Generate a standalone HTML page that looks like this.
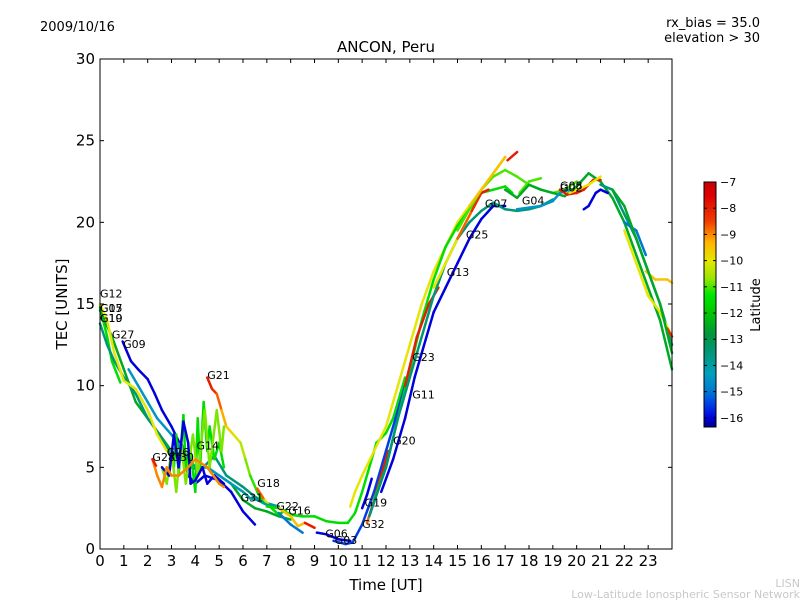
<!DOCTYPE html>
<html><head><meta charset="utf-8">
<style>
body{margin:0;background:#fff;}
svg{display:block;font-family:"DejaVu Sans","Liberation Sans",sans-serif;}
</style></head>
<body>
<svg id="chart" width="800" height="600" viewBox="0 0 800 600">
<rect width="800" height="600" fill="#fff"/>
<text x="40" y="31" font-size="13">2009/10/16</text>
<text x="760" y="27" font-size="13" text-anchor="end">rx_bias = 35.0</text>
<text x="760" y="42" font-size="13" text-anchor="end">elevation &gt; 30</text>
<text x="386" y="52" font-size="15" text-anchor="middle">ANCON, Peru</text>
<text x="386" y="590" font-size="15" text-anchor="middle">Time [UT]</text>
<text transform="translate(67,304) rotate(-90)" font-size="15" text-anchor="middle">TEC [UNITS]</text>
<text x="800" y="587" font-size="11" fill="#c8c8c8" text-anchor="end">LISN</text>
<text x="800" y="598" font-size="11" fill="#c8c8c8" text-anchor="end">Low-Latitude Ionospheric Sensor Network</text>
<g id="tracks"></g>
<g id="labels"></g>
<g id="axes"></g>
<g id="cbar"></g>
<text transform="translate(760,305) rotate(-90)" font-size="13" text-anchor="middle">Latitude</text>
</svg>
<script>
const xTicks=[0,1,2,3,4,5,6,7,8,9,10,11,12,13,14,15,16,17,18,19,20,21,22,23];
const yTicks=[0,5,10,15,20,25,30];
const cbTicks=[-7,-8,-9,-10,-11,-12,-13,-14,-15,-16];
const latMin=-16.35, latMax=-7;
const cmapLat=[-16.35,-16,-15.5,-15,-14.3,-13.5,-12.8,-12,-11.3,-10.7,-10,-9.3,-8.5,-7.5,-7];
const cmapRGB=[[0,0,140],[0,0,220],[0,60,230],[0,120,210],[0,160,190],[0,150,120],[0,150,60],[0,200,0],[0,230,0],[150,230,0],[230,230,0],[255,180,0],[240,60,0],[220,0,0],[200,0,0]];
const satNames=["G12","G17","G05","G10","G19","G27","G09","G21","G14","G26","G28","G30","G18","G31","G22","G16","G06","G03","G19","G32","G20","G11","G23","G13","G25","G07","G04","G08","G02"];
const satT=[0,0,0,0,0,0.5,0.97,4.5,4.05,2.8,2.2,3.0,6.6,5.9,7.4,7.9,9.45,9.85,11.1,11.0,12.3,13.1,13.1,14.55,15.35,16.15,17.7,19.3,19.3];
const satV=[15.4,14.5,14.5,13.9,13.9,12.9,12.3,10.4,6.1,5.7,5.4,5.4,3.8,2.9,2.4,2.1,0.7,0.3,2.6,1.3,6.4,9.2,11.5,16.7,19,20.9,21.1,22,21.9];
const tracks=[
{lat:[-11.5],pts:[[0,14.8],[0.3,13],[0.5,11.5],[0.85,10.2]]},
{lat:[-12.5],pts:[[0,14.6],[0.5,13],[1,11],[1.5,9],[2,8],[2.5,7],[3,6],[3.5,5.5],[4,5],[4.5,5],[5,4.5],[5.5,4],[6,3],[6.5,2.5],[7,2.3],[7.5,2],[8,1.8]]},
{lat:[-13.5],pts:[[0,13.8],[0.3,12.5],[0.6,11.5],[1,10.5],[1.5,9.5],[2,8],[2.5,7],[2.8,6.3],[3,5.5],[3.4,6.5],[3.8,5],[4.2,4.8],[4.8,5.7],[5.3,4.5],[6,3.8],[6.5,3.2],[7,2.8],[7.5,2.6]]},
{lat:[-16],pts:[[0.95,12.7],[1.3,11.5],[1.6,11],[2,10.4],[2.3,9.5],[2.6,8.5],[3,7.5],[3.5,6],[3.7,4.5],[4,4],[4.4,4.5],[5,4.2],[5.5,3.5],[6,2.3],[6.5,1.5]]},
{lat:[-14.5],pts:[[1.2,11],[1.6,10],[2,9],[2.4,8],[3,7],[3.5,6],[4,5],[4.5,5],[5,4.5],[5.5,4],[6,3.5]]},
{lat:[-10],pts:[[0,15],[0.3,14],[0.6,12],[1,10.3],[1.5,9.8],[2,8.5],[2.4,7],[2.8,6]]},
{lat:[-8,-8,-8.5,-9,-9.5,-10,-10.3,-10.6,-11,-11.3,-11.6],pts:[[4.5,10.5],[4.7,9.8],[4.9,9.5],[5.1,8.5],[5.3,7.5],[5.6,7],[5.9,6.5],[6.1,5.5],[6.3,4.5],[6.6,3.5],[6.8,3]]},
{lat:[-11.5],pts:[[3.1,5],[3.2,7],[3.3,4.5],[3.5,8.2],[3.6,5],[3.8,6],[4,3.5],[4.1,8],[4.2,5],[4.35,9],[4.5,6],[4.6,7.5],[4.8,5.5],[5,6.5],[5.2,5]]},
{lat:[-10.8],pts:[[2.6,5],[2.8,4],[3,6],[3.2,3.5],[3.4,6.5],[3.6,4],[3.9,7],[4.1,4.5],[4.4,8.5],[4.6,5],[4.9,8.5],[5.1,6],[5.2,7.5]]},
{lat:[-16],pts:[[2.6,5],[2.9,4.5],[3.1,7],[3.3,5],[3.5,7.8],[3.7,6.5],[3.8,4],[4,4.2],[4.3,5],[4.5,4],[4.8,4.5],[5.2,4]]},
{lat:[-9],pts:[[2.2,5.5],[2.4,4.5],[2.6,3.8],[2.8,5],[3,4.5],[3.3,4.5],[3.7,5],[4,5.5],[4.5,5],[5,4],[5.2,3.8]]},
{lat:[-8],pts:[[2.2,5.5],[2.35,5.1]]},
{lat:[-8,-9.5,-11,-12,-11.5],pts:[[6.6,3.7],[6.9,3],[7.2,2.5],[7.5,2.1],[7.8,2.4]]},
{lat:[-14],pts:[[6,3.5],[6.3,3.1],[6.6,3],[7,2.7],[7.5,2.6]]},
{lat:[-11.5],pts:[[7,2.6],[7.5,2.5],[8,2.1],[8.5,2],[9,2],[9.5,1.7],[10,1.6],[10.4,1.6],[10.7,2.2],[11,3.5],[11.3,5],[11.6,6.5],[12,7.1],[12.3,8],[12.6,9.5],[12.8,10.5]]},
{lat:[-9.5],pts:[[7.5,2.5],[8,2],[8.3,1.4],[8.6,1.6],[9,1.3]]},
{lat:[-15],pts:[[7.5,2.2],[8,1.5],[8.5,1]]},
{lat:[-8],pts:[[8.6,1.6],[9,1.3]]},
{lat:[-16],pts:[[9.1,1],[9.5,0.9],[10,0.6],[10.5,0.5]]},
{lat:[-15.5],pts:[[9.8,0.5],[10.3,0.3],[10.6,0.4],[11,1.5],[11.5,3.5],[12,6],[12.5,8.5],[13,11],[13.3,13]]},
{lat:[-16],pts:[[11,2.5],[11.2,3.3],[11.4,4.3]]},
{lat:[-9,-8.5,-8,-8],pts:[[11.2,1.6],[11.5,3],[11.8,4.5],[12.1,6]]},
{lat:[-10],pts:[[10.5,2.6],[10.7,3.5],[11,4.5],[11.5,6],[12,7.5],[12.5,10],[13,12.5],[13.5,15],[14,17],[14.5,18.5],[15,20],[15.5,21],[16,22],[16.5,23],[17,24]]},
{lat:[-16],pts:[[11.8,3.5],[12.3,5.5],[12.8,8],[13.2,10.5],[13.5,12],[14,14.5],[14.5,16],[15,17.5],[15.5,19],[16,20.2],[16.5,21],[17,21]]},
{lat:[-11.5],pts:[[11.5,3],[12,5],[12.5,8],[13,11],[13.5,14],[14,16.5],[14.5,18.5],[15,19.8],[15.5,20.8],[16,21.8],[16.5,22],[17,22.2],[17.3,21.8]]},
{lat:[-8],pts:[[12.8,10],[13.3,13],[13.8,15],[14.2,16]]},
{lat:[-13.5],pts:[[11.3,2],[12,5],[12.5,8],[13,10.5],[13.5,13],[14,15.5],[14.5,17.5],[15,19],[15.5,20],[16,20.7],[16.5,21.2],[17,20.8],[17.5,20.7],[18,20.8],[18.5,21],[19,21.4]]},
{lat:[-11,-9,-8.5,-8,-8],pts:[[14,16],[15,19],[15.6,20.7],[16,21.8],[16.3,22]]},
{lat:[-11],pts:[[15,19.5],[15.5,20.8],[16,22],[16.5,22.8],[17,23.2],[17.5,22.8],[18,22.3],[18.5,22],[19,21.8],[19.5,22],[20,22.5]]},
{lat:[-11],pts:[[17.6,21.8],[18,22.5],[18.5,22.7]]},
{lat:[-8],pts:[[17.1,23.8],[17.5,24.3]]},
{lat:[-9.5],pts:[[15.5,21],[16,22],[16.5,23],[17,24]]},
{lat:[-12.5],pts:[[17,22],[17.5,21.5],[18,22.3],[18.5,22],[19,21.8],[19.5,21.6],[20,22.2],[20.5,23],[21,22.5],[21.5,21.5],[22,20],[22.5,18],[23,16],[23.5,14],[24,11]]},
{lat:[-14.5],pts:[[17.5,20.8],[18,20.9],[18.5,21],[19,21.3],[19.3,21.8],[19.7,22]]},
{lat:[-8],pts:[[19.3,22],[19.6,21.7],[20,21.8],[20.3,22],[20.7,22.6],[21,22.6]]},
{lat:[-10],pts:[[19.7,21.8],[20.5,22.3],[21,22.8]]},
{lat:[-16],pts:[[20.3,20.8],[20.5,21],[20.8,21.8],[21,22],[21.3,21.8]]},
{lat:[-13.5],pts:[[21,22.3],[21.5,22],[22,20.5],[22.5,19],[23,17],[23.5,15],[24,12.5]]},
{lat:[-15],pts:[[22,20],[22.5,19.5],[22.9,18]]},
{lat:[-10],pts:[[22,19.5],[22.5,17.5],[23,15.5],[23.5,14.5],[24,13]]},
{lat:[-8.5,-8],pts:[[23.8,13.5],[24,13]]},
{lat:[-9.5],pts:[[22.9,17],[23.3,16.5],[23.8,16.5],[24,16.3]]},
{lat:[-12.5],pts:[[21.5,22],[22,21],[22.5,19],[23,17],[23.5,15],[24,12]]}
];
const X0=100,X1=672,Y0=549,Y1=59;
const sx=t=>X0+t*(X1-X0)/24, sy=v=>Y0-v*(Y0-Y1)/30;
const NS="http://www.w3.org/2000/svg";
function latColor(l){
 l=Math.max(latMin,Math.min(latMax,l));
 for(let i=0;i<cmapLat.length-1;i++){
  if(l<=cmapLat[i+1]){const f=(l-cmapLat[i])/(cmapLat[i+1]-cmapLat[i]);
   const a=cmapRGB[i],b=cmapRGB[i+1];
   return `rgb(${Math.round(a[0]+(b[0]-a[0])*f)},${Math.round(a[1]+(b[1]-a[1])*f)},${Math.round(a[2]+(b[2]-a[2])*f)})`;}
 }
 const c=cmapRGB[cmapRGB.length-1];return `rgb(${c[0]},${c[1]},${c[2]})`;
}
const tg=document.getElementById('tracks');
tracks.forEach((tr,i)=>{
 for(let k=0;k<tr.pts.length-1;k++){
  const la=tr.lat.length>1?(tr.lat[k]+tr.lat[k+1])/2:tr.lat[0];
  const ln=document.createElementNS(NS,'line');
  ln.setAttribute('x1',sx(tr.pts[k][0]));ln.setAttribute('y1',sy(tr.pts[k][1]));
  ln.setAttribute('x2',sx(tr.pts[k+1][0]));ln.setAttribute('y2',sy(tr.pts[k+1][1]));
  ln.setAttribute('stroke',latColor(la));ln.setAttribute('stroke-width','2.5');ln.setAttribute('stroke-linecap','round');
  
  
  tg.appendChild(ln);
 }
});
const lg=document.getElementById('labels');
satNames.forEach((n,i)=>{
 const t=document.createElementNS(NS,'text');
 t.setAttribute('x',sx(satT[i]));t.setAttribute('y',sy(satV[i]));t.setAttribute('font-size','11');
 t.textContent=n;
 
 
 lg.appendChild(t);
});
const ax=document.getElementById('axes');
let h=`<rect x="${X0}" y="${Y1}" width="${X1-X0}" height="${Y0-Y1}" fill="none" stroke="#000" stroke-width="1"/>`;
xTicks.forEach(t=>{const x=sx(t);
 h+=`<line x1="${x}" y1="${Y0}" x2="${x}" y2="${Y0-4}" stroke="#000"/><line x1="${x}" y1="${Y1}" x2="${x}" y2="${Y1+4}" stroke="#000"/>`;
 h+=`<text x="${x}" y="${Y0+17}" font-size="15" text-anchor="middle">${t}</text>`;});
yTicks.forEach(v=>{const y=sy(v);
 h+=`<line x1="${X0}" y1="${y}" x2="${X0+4}" y2="${y}" stroke="#000"/><line x1="${X1}" y1="${y}" x2="${X1-4}" y2="${y}" stroke="#000"/>`;
 h+=`<text x="${X0-5}" y="${y+5}" font-size="15" text-anchor="end">${v}</text>`;});
ax.innerHTML=h;
const cb=document.getElementById('cbar');
const CX=704,CW=12,CT=182,CB=427;
let c=`<defs><linearGradient id="jg" x1="0" y1="1" x2="0" y2="0">`;
cmapLat.forEach((l,i)=>{c+=`<stop offset="${(l-latMin)/(latMax-latMin)}" stop-color="${latColor(l)}"/>`;});
c+=`</linearGradient></defs><rect x="${CX}" y="${CT}" width="${CW}" height="${CB-CT}" fill="url(#jg)" stroke="#000"/>`;
const cy=l=>CB-(l-latMin)/(latMax-latMin)*(CB-CT);
cbTicks.forEach(l=>{const y=cy(l);
 c+=`<line x1="${CX}" y1="${y}" x2="${CX+3}" y2="${y}" stroke="#000"/><line x1="${CX+CW}" y1="${y}" x2="${CX+CW-3}" y2="${y}" stroke="#000"/>`;
 c+=`<text x="${CX+CW+4}" y="${y+4}" font-size="11">\u2212${Math.abs(l)}</text>`;});
cb.innerHTML=c;
</script>
</body></html>
